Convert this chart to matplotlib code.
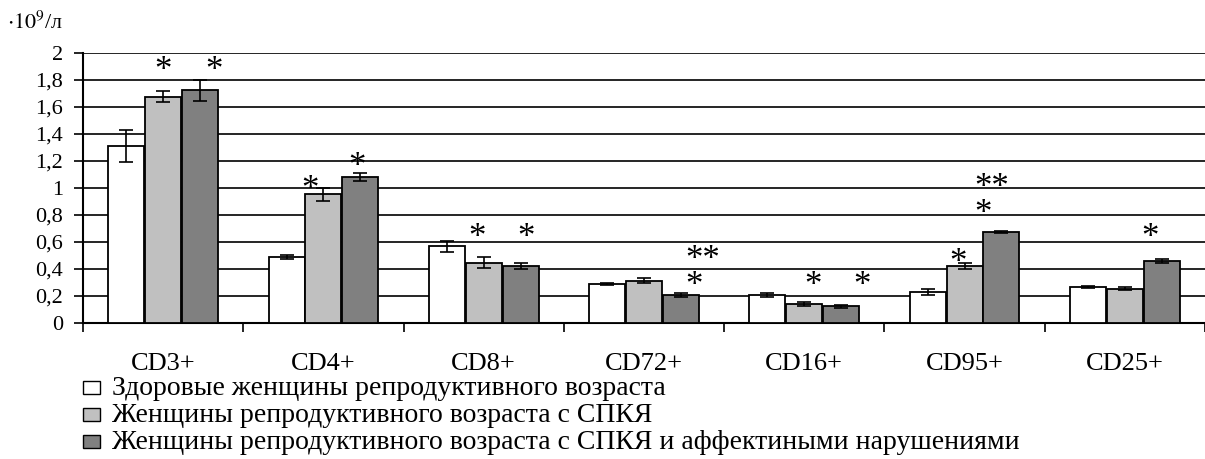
import matplotlib
matplotlib.use("Agg")
import matplotlib.pyplot as plt
from matplotlib.patches import Rectangle
import numpy as np

plt.rcParams['font.family'] = ['Liberation Serif', 'DejaVu Serif']
plt.rcParams['mathtext.fontset'] = 'stix'

categories = ["CD3+", "CD4+", "CD8+", "CD72+", "CD16+", "CD95+", "CD25+"]
series_names = [
    "Здоровые женщины репродуктивного возраста",
    "Женщины репродуктивного возраста с СПКЯ",
    "Женщины репродуктивного возраста с СПКЯ и аффектиными нарушениями",
]
healthy = [1.31, 0.49, 0.565, 0.287, 0.205, 0.228, 0.265]
healthy_err = [0.12, 0.015, 0.04, 0.01, 0.018, 0.022, 0.005]
pcos = [1.675, 0.95, 0.445, 0.312, 0.14, 0.42, 0.252]
pcos_err = [0.04, 0.045, 0.042, 0.018, 0.017, 0.023, 0.01]
pcos_aff = [1.72, 1.08, 0.42, 0.205, 0.122, 0.672, 0.457]
pcos_aff_err = [0.075, 0.03, 0.02, 0.018, 0.01, 0.004, 0.018]
yticks = [0, 0.2, 0.4, 0.6, 0.8, 1.0, 1.2, 1.4, 1.6, 1.8, 2.0]
ytick_labels = ["0", "0,2", "0,4", "0,6", "0,8", "1", "1,2", "1,4", "1,6", "1,8", "2"]

# significance marks: (category index, x shift in category units, y value of last line, text)
marks = [
    (0, 0.0, 1.92, "*"), (0, 0.317, 1.92, "*"),
    (1, -0.084, 1.04, "*"), (1, 0.209, 1.21, "*"),
    (2, -0.042, 0.68, "*"), (2, 0.264, 0.68, "*"),
    (3, 0.368, 0.324, "**\n*"),
    (4, 0.054, 0.324, "*"), (4, 0.359, 0.324, "*"),
    (5, -0.042, 0.50, "*"), (5, 0.17, 0.857, "**\n*"),
    (6, 0.156, 0.68, "*"),
]

colors = ["#FFFFFF", "#C0C0C0", "#808080"]

W, H = 1205, 459
fig = plt.figure(figsize=(W / 100, H / 100), dpi=100)
ax = fig.add_axes([83 / W, (H - 322.7) / H, 1 - 83 / W, 270 / H])

x = np.arange(len(categories))
width = 0.225
step = 0.23
vals = [healthy, pcos, pcos_aff]
errs = [healthy_err, pcos_err, pcos_aff_err]
for i, (v, e, c) in enumerate(zip(vals, errs, colors)):
    ax.bar(x + (i - 1) * step, v, width, color=c, edgecolor="black", linewidth=1.3,
           yerr=e, capsize=4.7, error_kw=dict(ecolor="black", elinewidth=1.2, capthick=1.2),
           zorder=3)

ast_size = 25
for ci, dx, yv, t in marks:
    ax.annotate(t, xy=(ci + dx, yv), xytext=(0, -0.47 * ast_size), textcoords="offset points",
                ha="center", va="baseline", multialignment="left", linespacing=0.72,
                fontsize=ast_size, zorder=4)

ax.set_xlim(-0.5, len(categories) - 0.5)
ax.set_ylim(0, 2)
ax.set_yticks(yticks)
ax.set_yticklabels(ytick_labels, fontsize=16)
ax.yaxis.grid(True, color="black", linewidth=1.2, zorder=0)
ax.set_axisbelow(True)
ax.tick_params(axis="y", length=6.5, width=1.2, pad=8, direction="out")
ax.set_xticks(x)
ax.set_xticklabels(categories, fontsize=19)
ax.set_xticks(np.arange(len(categories) + 1) - 0.5, minor=True)
ax.tick_params(axis="x", which="major", length=0, pad=22)
ax.tick_params(axis="x", which="minor", length=6.5, width=1.2, direction="out")
for s in ["top", "right"]:
    ax.spines[s].set_visible(False)
ax.spines["left"].set_linewidth(1.5)
ax.spines["bottom"].set_linewidth(1.5)

fig.text(7 / W, 1 - 23 / H, r"$\cdot10^{9}$/л", fontsize=16, va="center", ha="left")

# legend, drawn as a vertical list below the axis labels
row_baselines = [395, 422, 449]
for name, c, yb in zip(series_names, colors, row_baselines):
    fig.patches.append(Rectangle((83 / W, 1 - (yb - 1) / H), 17 / W, 13 / H,
                                 transform=fig.transFigure, facecolor=c,
                                 edgecolor="black", linewidth=1.0))
    fig.text(112 / W, 1 - yb / H, name, fontsize=20, va="baseline", ha="left")

fig.savefig("out.png", dpi=100)
